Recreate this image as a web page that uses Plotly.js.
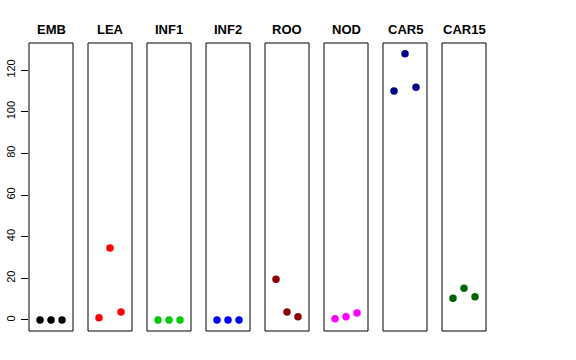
<!DOCTYPE html>
<html><head><meta charset="utf-8">
<script src="https://cdn.plot.ly/plotly-3.0.1.min.js"></script>
<style>body{margin:0;padding:0;background:#fff}#chart{width:576px;height:360px}</style>
</head><body><div id="chart"></div>
<script>
const groups = ["EMB","LEA","INF1","INF2","ROO","NOD","CAR5","CAR15"];
const colors = ["#000000","#FF0000","#00CD00","#0000FF","#8B0000","#FF00FF","#00008B","#006400"];
const replicate = [1,2,3];
const EMB = [0,0,0];
const LEA = [1.1,34.6,3.8];
const INF1 = [0,0,0];
const INF2 = [0,0,0];
const ROO = [19.5,3.8,1.6];
const NOD = [0.6,1.6,3.4];
const CAR5 = [109.9,127.8,111.7];
const CAR15 = [10.4,15.2,11.2];
const yTicks = [0,20,40,60,80,100,120];
const values = [EMB,LEA,INF1,INF2,ROO,NOD,CAR5,CAR15];

const W = 576, H = 360, L = 29, R = 90, T = 43, B = 29;
const plotW = W - L - R;
const step = 59, pw = 44;
const traces = [], shapes = [], annotations = [];
const layout = {
  width: W, height: H, margin: {l: L, r: R, t: T, b: B, pad: 0},
  paper_bgcolor: "#fff", plot_bgcolor: "#fff", showlegend: false,
  font: {family: "Liberation Sans, Arial, sans-serif", color: "#000"},
  yaxis: {range: [-5.3, 133], tickvals: yTicks, ticktext: yTicks.map(String),
    ticks: "outside", ticklen: 7, tickwidth: 1, tickcolor: "#000", tickangle: -90,
    ticklabelstandoff: 2,
    showgrid: false, zeroline: false, showline: false, anchor: "x",
    tickfont: {size: 11, family: "Liberation Sans, Arial, sans-serif"}}
};
groups.forEach((g, i) => {
  const xa = i === 0 ? "xaxis" : "xaxis" + (i + 1);
  const xr = i === 0 ? "x" : "x" + (i + 1);
  const d0 = (step * i) / plotW, d1 = (step * i + pw) / plotW;
  layout[xa] = {domain: [d0, d1], range: [0, 4], showticklabels: false, ticks: "",
    showgrid: false, zeroline: false, showline: false, anchor: "y"};
  traces.push({x: replicate, y: values[i], xaxis: xr, yaxis: "y", type: "scatter", mode: "markers",
    marker: {color: colors[i], size: 7.5}, hoverinfo: "skip"});
  shapes.push({type: "rect", xref: xr + " domain", yref: "y domain", x0: 0, x1: 1, y0: 0, y1: 1,
    line: {color: "#000", width: 1}, fillcolor: "rgba(0,0,0,0)"});
  annotations.push({text: "<b>" + g + "</b>", xref: xr + " domain", yref: "paper", x: 0.5, y: 1,
    yshift: 14, xanchor: "center", yanchor: "middle", showarrow: false,
    font: {size: 13, family: "Liberation Sans, Arial, sans-serif", color: "#000"}});
});
layout.shapes = shapes;
layout.annotations = annotations;
Plotly.newPlot("chart", traces, layout, {staticPlot: true, displayModeBar: false});
</script></body></html>
